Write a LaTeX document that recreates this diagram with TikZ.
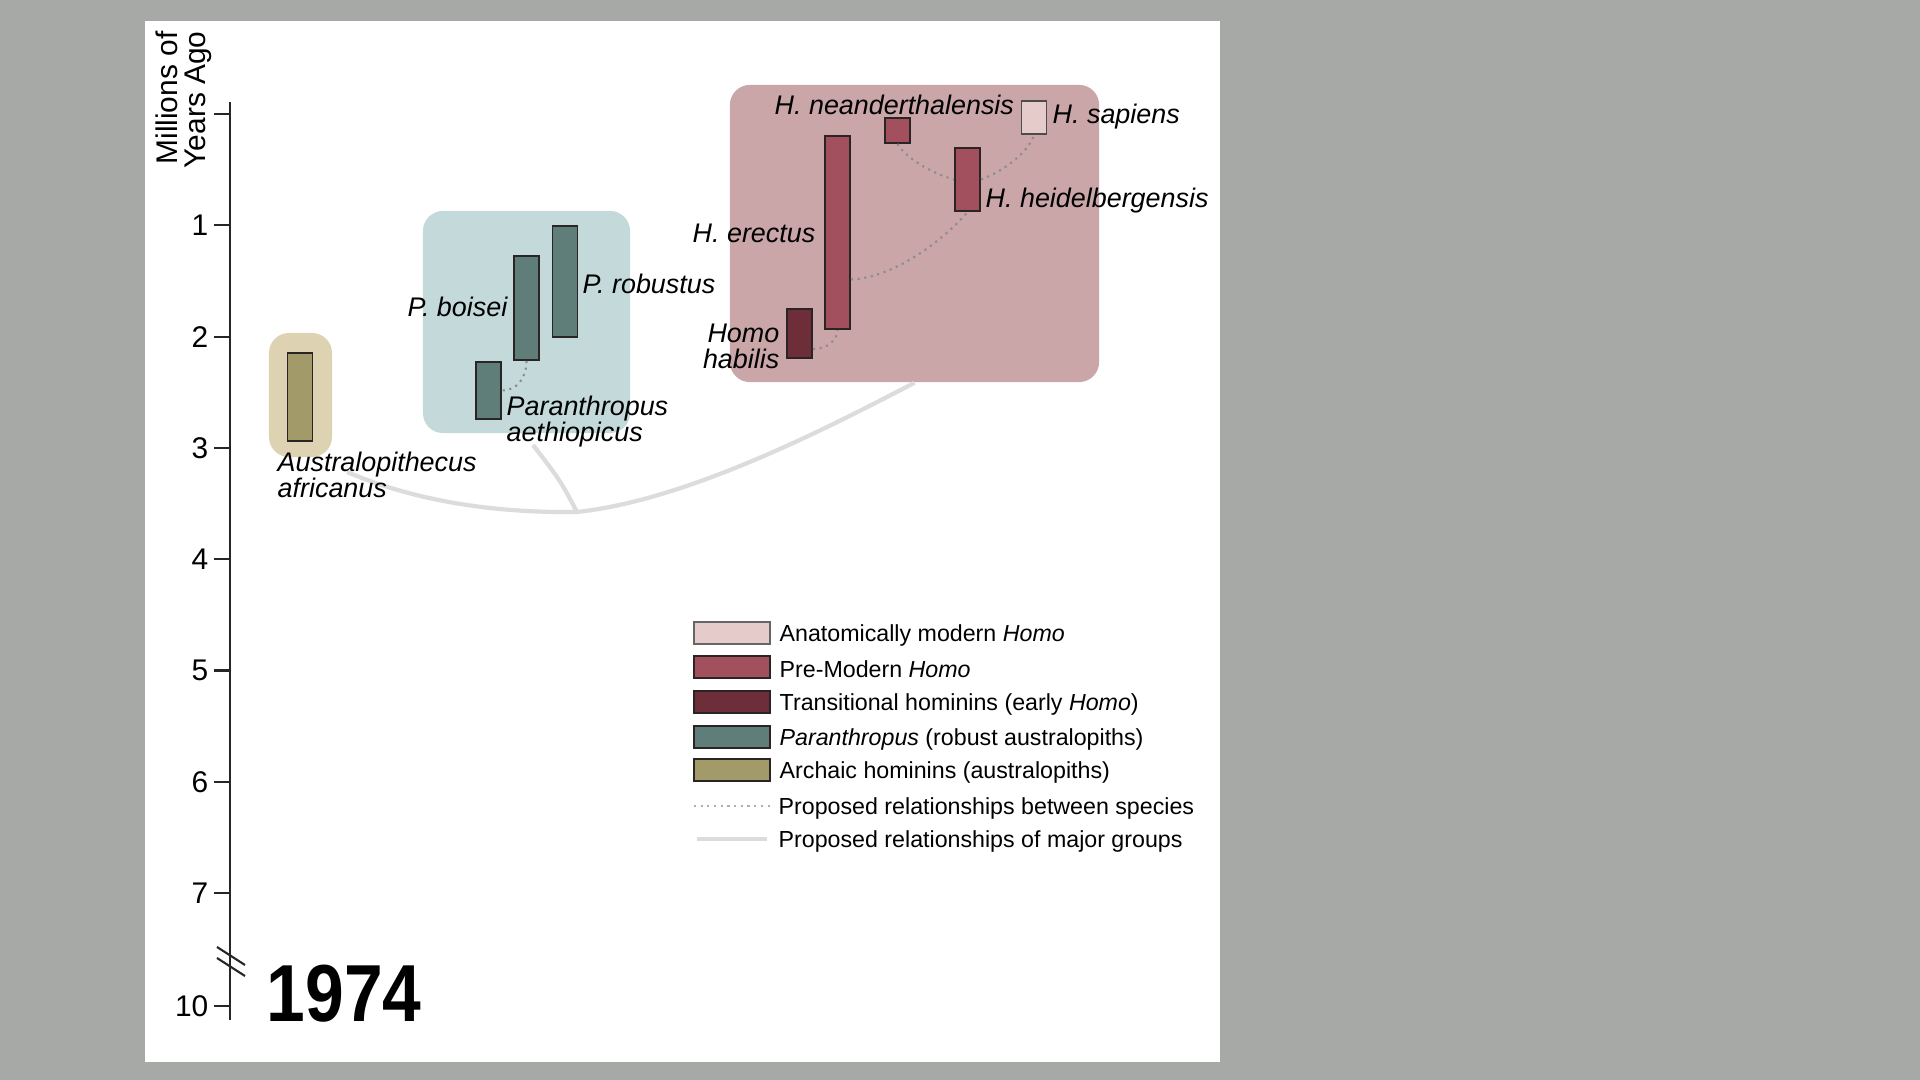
\documentclass[tikz,border=0pt]{standalone}
\usepackage{fontspec}
\setmainfont{Liberation Sans}
\usetikzlibrary{positioning}

\definecolor{bggrey}{HTML}{A7A9A6}
\definecolor{archlt}{HTML}{DDD3B3}
\definecolor{archdk}{HTML}{A39A69}
\definecolor{parlt}{HTML}{C4DADA}
\definecolor{pardk}{HTML}{5F7E79}
\definecolor{homolt}{HTML}{CAA6A9}
\definecolor{premod}{HTML}{A24F5E}
\definecolor{transit}{HTML}{6D2E39}
\definecolor{modern}{HTML}{E6CBCB}
\definecolor{barline}{HTML}{2B2424}
\definecolor{majgrey}{HTML}{DCDCDC}
\definecolor{relgrey}{HTML}{8C8C8C}

\newcommand{\spfont}{\fontsize{7.65pt}{7.4pt}\selectfont\lineskiplimit=-5pt\itshape}
\newcommand{\legfont}{\fontsize{6.6pt}{7.5pt}\selectfont}
\newcommand{\axfont}{\fontsize{8.5pt}{7.9pt}\selectfont\lineskiplimit=-5pt}

\tikzset{
  grp/.style={inner sep=0pt, rounded corners=0.2cm},
  sbar/.style={draw=barline, line width=0.55pt, inner sep=0pt, minimum width=0.25cm},
  lbl/.style={font=\spfont, inner sep=0pt},
  rel/.style={draw=relgrey, line width=0.6pt, dash pattern=on 0.6pt off 1.3pt},
  major/.style={draw=majgrey, line width=1.2pt},
  axisline/.style={draw=black!85, line width=0.6pt},
  swatch/.style={draw=barline, line width=0.55pt, inner sep=0pt, minimum width=0.76cm, minimum height=0.22cm},
  legtxt/.style={font=\legfont, inner sep=0pt, anchor=west, yshift=-0.6pt}
}

\begin{document}
\begin{tikzpicture}[x=0.01cm, y=-0.01cm]
  \useasboundingbox (0,0) rectangle (1920,1080);
  \fill[bggrey] (0,0) rectangle (1920,1080);
  \fill[white] (145,21) rectangle (1220,1062);

% time axis
  \draw[axisline] (230,102) -- (230,1020);
  \draw[axisline] (214,114) -- (230,114);
  \foreach \t in {1,...,7} {
    \draw[axisline] (214,{114+111.3*\t}) -- (230,{114+111.3*\t});
    \node[anchor=east, inner sep=0pt, font=\axfont] (tk\t) at (209,{114+111.3*\t}) {\t};
  }
  \draw[axisline] (214,1006) -- (230,1006);
  \node[anchor=east, inner sep=0pt, font=\axfont] (tk10) at (209,1006) {10};
  \draw[axisline] (217,947) -- (245,965);
  \draw[axisline] (217,958) -- (245,976);
  \node[font=\axfont, rotate=90, align=right, inner sep=0pt] (ylab) at (184,100) {Millions of\\Years Ago};
  \node[anchor=base west, inner sep=0pt] (year) at (266,1022)
    {\scalebox{0.86}[1]{\fontsize{23pt}{23pt}\selectfont\bfseries 1974}};

% group boxes
  \node[grp, fill=archlt, minimum width=0.63cm, minimum height=1.24cm] (archaic) at (300.5,395) {};
  \node[grp, fill=parlt, minimum width=2.07cm, minimum height=2.22cm] (paran) at (526.5,322) {};
  \node[grp, fill=homolt, minimum width=3.69cm, minimum height=2.97cm] (homo) at (914.5,233.5) {};

% relationships of major groups
  \coordinate (archend) at (347,472);
  \coordinate (fork) at (577,512);
  \coordinate (parend) at (533,445);
  \draw[major] (archend) .. controls (420,503) and (500,513) .. (fork)
    .. controls (690,500) and (833,425) .. (homo.south);
  \draw[major] (fork) .. controls (560,480) .. (parend);

% species
  \node[sbar, fill=archdk, minimum height=0.88cm] (afr) at (300,397) {};
  \node[sbar, fill=pardk, minimum height=0.57cm] (aeth) at (488.5,390.5) {};
  \node[sbar, fill=pardk, minimum height=1.04cm] (boisei) at (526.5,308) {};
  \node[sbar, fill=pardk, minimum height=1.11cm] (robust) at (565,281.5) {};
  \node[sbar, fill=transit, minimum height=0.49cm] (habilis) at (799.5,333.5) {};
  \node[sbar, fill=premod, minimum height=1.93cm] (erectus) at (837.5,232.5) {};
  \node[sbar, fill=premod, minimum height=0.25cm] (neander) at (897.5,130.5) {};
  \node[sbar, fill=premod, minimum height=0.63cm] (heidel) at (967.5,179.5) {};
  \node[sbar, draw=black!70, fill=modern, minimum height=0.33cm] (sapiens) at (1034,117.5) {};

% relationships between species
  \draw[rel] (boisei.south) .. controls +(0,18) and +(14,0) .. (aeth.east);
  \draw[rel] (habilis.-49) .. controls +(13,0) and +(0,11) .. (erectus.south);
  \draw[rel] (erectus.-74) .. controls +(45,-2) and +(-22,26) .. (heidel.south);
  \draw[rel] (neander.south) .. controls +(8,14) and +(-22,-6) .. (heidel.west);
  \draw[rel] (heidel.east) .. controls +(22,-8) and +(-6,18) .. (sapiens.south);

% names
  \node[lbl, anchor=north west, align=left] (afrlbl) at (277,451) {Australopithecus\\africanus};
  \node[lbl, anchor=north west, align=left] (aethlbl) at (506,395) {Paranthropus\\aethiopicus};
  \node[lbl, anchor=base east] (boiseilbl) at (508,317) {P. boisei};
  \node[lbl, anchor=base west] (robustlbl) at (582,294) {P. robustus};
  \node[lbl, anchor=north east, align=right] (habilislbl) at (780,323) {Homo\\habilis};
  \node[lbl, anchor=base east] (erectuslbl) at (816,243) {H. erectus};
  \node[lbl, anchor=base west] (neanderlbl) at (774,115) {H. neanderthalensis};
  \node[lbl, anchor=base west] (sapienslbl) at (1052,124) {H. sapiens};
  \node[lbl, anchor=base west] (heidellbl) at (985,208) {H. heidelbergensis};

% legend
  \node[swatch, draw=black!60, fill=modern] (lg1) at (732,633) {};
  \node[legtxt, right=0.08cm of lg1] (lt1) {Anatomically modern \textit{Homo}};
  \node[swatch, fill=premod] (lg2) at (732,667) {};
  \node[legtxt, right=0.08cm of lg2] (lt2) {Pre-Modern \textit{Homo}};
  \node[swatch, fill=transit] (lg3) at (732,702) {};
  \node[legtxt, right=0.08cm of lg3] (lt3) {Transitional hominins (early \textit{Homo})};
  \node[swatch, fill=pardk] (lg4) at (732,737) {};
  \node[legtxt, right=0.08cm of lg4] (lt4) {\textit{Paranthropus} (robust australopiths)};
  \node[swatch, fill=archdk] (lg5) at (732,770) {};
  \node[legtxt, right=0.08cm of lg5] (lt5) {Archaic hominins (australopiths)};
  \coordinate (ld1) at (694,806);
  \coordinate (ld2) at (770,806);
  \draw[rel, draw=relgrey!70] (ld1) -- (ld2);
  \node[legtxt, right=0.08cm of ld2] (lt6) {Proposed relationships between species};
  \coordinate (lm1) at (697,839);
  \coordinate (lm2) at (767,839);
  \draw[major] (lm1) -- (lm2);
  \node[legtxt, right=0.11cm of lm2] (lt7) {Proposed relationships of major groups};
\end{tikzpicture}
\end{document}
